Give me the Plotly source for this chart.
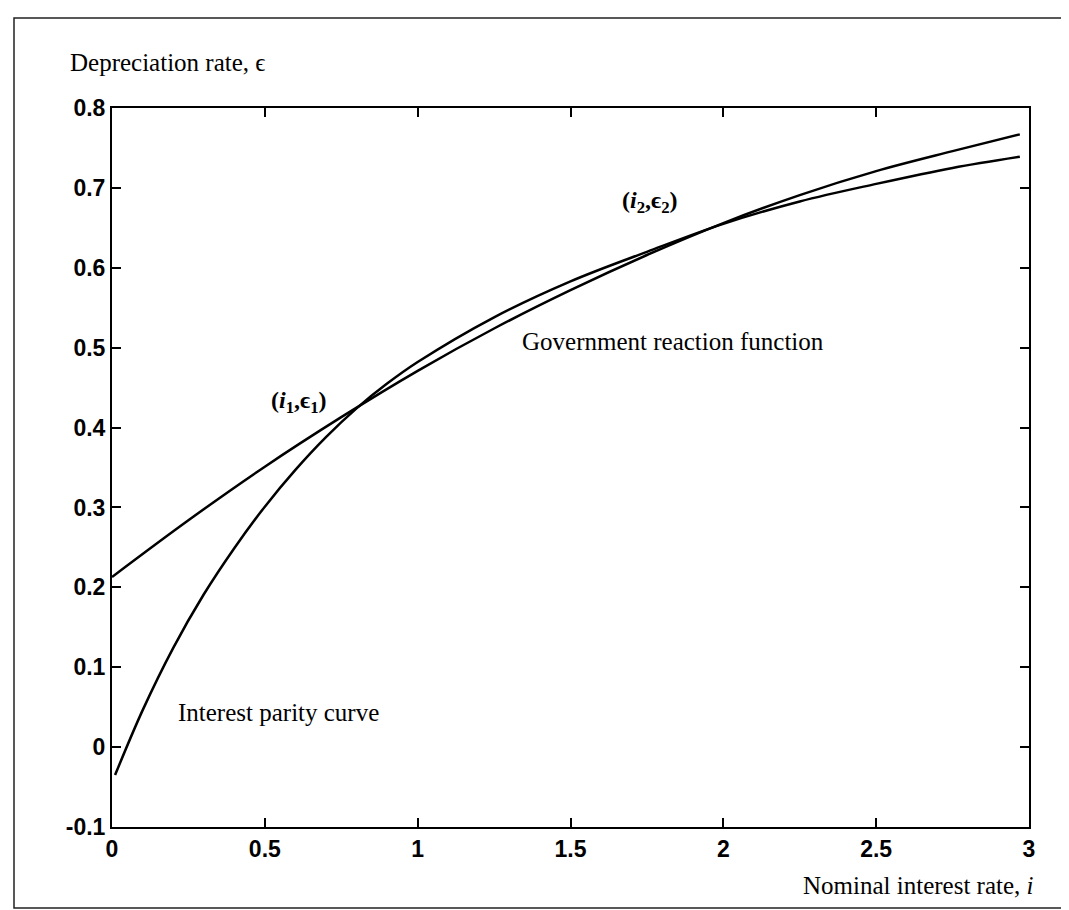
import plotly.graph_objects as go

# Government reaction function
grf_x = [0.0, 0.25, 0.5, 0.75, 1.0, 1.25, 1.5, 1.75, 2.0, 2.25, 2.5, 2.75, 2.97]
grf_y = [0.213, 0.284, 0.351, 0.413, 0.471, 0.524, 0.572, 0.616, 0.656, 0.691, 0.721, 0.746, 0.767]

# Interest parity curve
ipc_x = [0.01, 0.1, 0.2, 0.3, 0.4, 0.5, 0.6, 0.7, 0.8, 0.9, 1.0, 1.25, 1.5, 1.75, 2.0, 2.25, 2.5, 2.75, 2.97]
ipc_y = [-0.035, 0.046, 0.124, 0.191, 0.249, 0.301, 0.347, 0.388, 0.424, 0.455, 0.482, 0.538, 0.583,
         0.620, 0.655, 0.683, 0.705, 0.725, 0.739]

x_ticks = [0, 0.5, 1, 1.5, 2, 2.5, 3]
x_ticklabels = ["0", "0.5", "1", "1.5", "2", "2.5", "3"]
y_ticks = [-0.1, 0, 0.1, 0.2, 0.3, 0.4, 0.5, 0.6, 0.7, 0.8]
y_ticklabels = ["-0.1", "0", "0.1", "0.2", "0.3", "0.4", "0.5", "0.6", "0.7", "0.8"]

fig = go.Figure()
fig.add_trace(go.Scatter(x=grf_x, y=grf_y, mode="lines", line=dict(color="black", width=2.5, shape="spline"),
                         showlegend=False, hoverinfo="skip"))
fig.add_trace(go.Scatter(x=ipc_x, y=ipc_y, mode="lines", line=dict(color="black", width=2.5, shape="spline"),
                         showlegend=False, hoverinfo="skip"))

L, R, T, B = 104, 1021, 100, 819
W, H = 1069, 910
pw, ph = R - L, B - T

def px(xp):
    return (xp - L) / pw

def py(yp):
    return (B - yp) / ph

serif = "Liberation Serif, Times New Roman, serif"
sans = "Liberation Sans, Arial, sans-serif"
FS = 25

axis_common = dict(showline=True, linecolor="black", linewidth=2, mirror="ticks", ticks="inside",
                   ticklen=9, tickwidth=2, tickcolor="black", showgrid=False, zeroline=False,
                   tickfont=dict(family=sans, size=23, color="black", weight="bold"))

fig.update_layout(
    width=W, height=H,
    margin=dict(l=L, r=W - R, t=T, b=H - B),
    paper_bgcolor="white", plot_bgcolor="white",
    xaxis=dict(range=[0, 3], tickvals=x_ticks, ticktext=x_ticklabels, **axis_common),
    yaxis=dict(range=[-0.1, 0.8], tickvals=y_ticks, ticktext=y_ticklabels, **axis_common),
    shapes=[dict(type="rect", xref="paper", yref="paper", x0=px(6), x1=px(1100), y0=py(900), y1=py(10),
                 line=dict(color="#222", width=1.5), layer="below")],
    annotations=[
        dict(text="Depreciation rate, \u03f5", xref="paper", yref="paper", x=px(60), y=py(55),
             xanchor="left", yanchor="middle", showarrow=False, font=dict(family=serif, size=FS, color="black")),
        dict(text="Nominal interest rate, <i>i</i>", xref="paper", yref="paper", x=px(1028), y=py(877),
             xanchor="right", yanchor="middle", showarrow=False, font=dict(family=serif, size=FS, color="black")),
        dict(text="Interest parity curve", x=0.209, y=0.043, xanchor="left", yanchor="middle",
             showarrow=False, font=dict(family=serif, size=FS, color="black")),
        dict(text="<b>(<i>i</i><sub>1</sub>,\u03f5<sub>1</sub>)</b>", x=0.612, y=0.432, xanchor="center",
             yanchor="middle", showarrow=False, font=dict(family=serif, size=FS - 1, color="black")),
        dict(text="<b>(<i>i</i><sub>2</sub>,\u03f5<sub>2</sub>)</b>", x=1.760, y=0.682, xanchor="center",
             yanchor="middle", showarrow=False, font=dict(family=serif, size=FS - 1, color="black")),
        dict(text="Government reaction function", x=2.336, y=0.508, xanchor="right", yanchor="middle",
             showarrow=False, font=dict(family=serif, size=FS, color="black")),
    ],
)

fig.write_html("out.html")
